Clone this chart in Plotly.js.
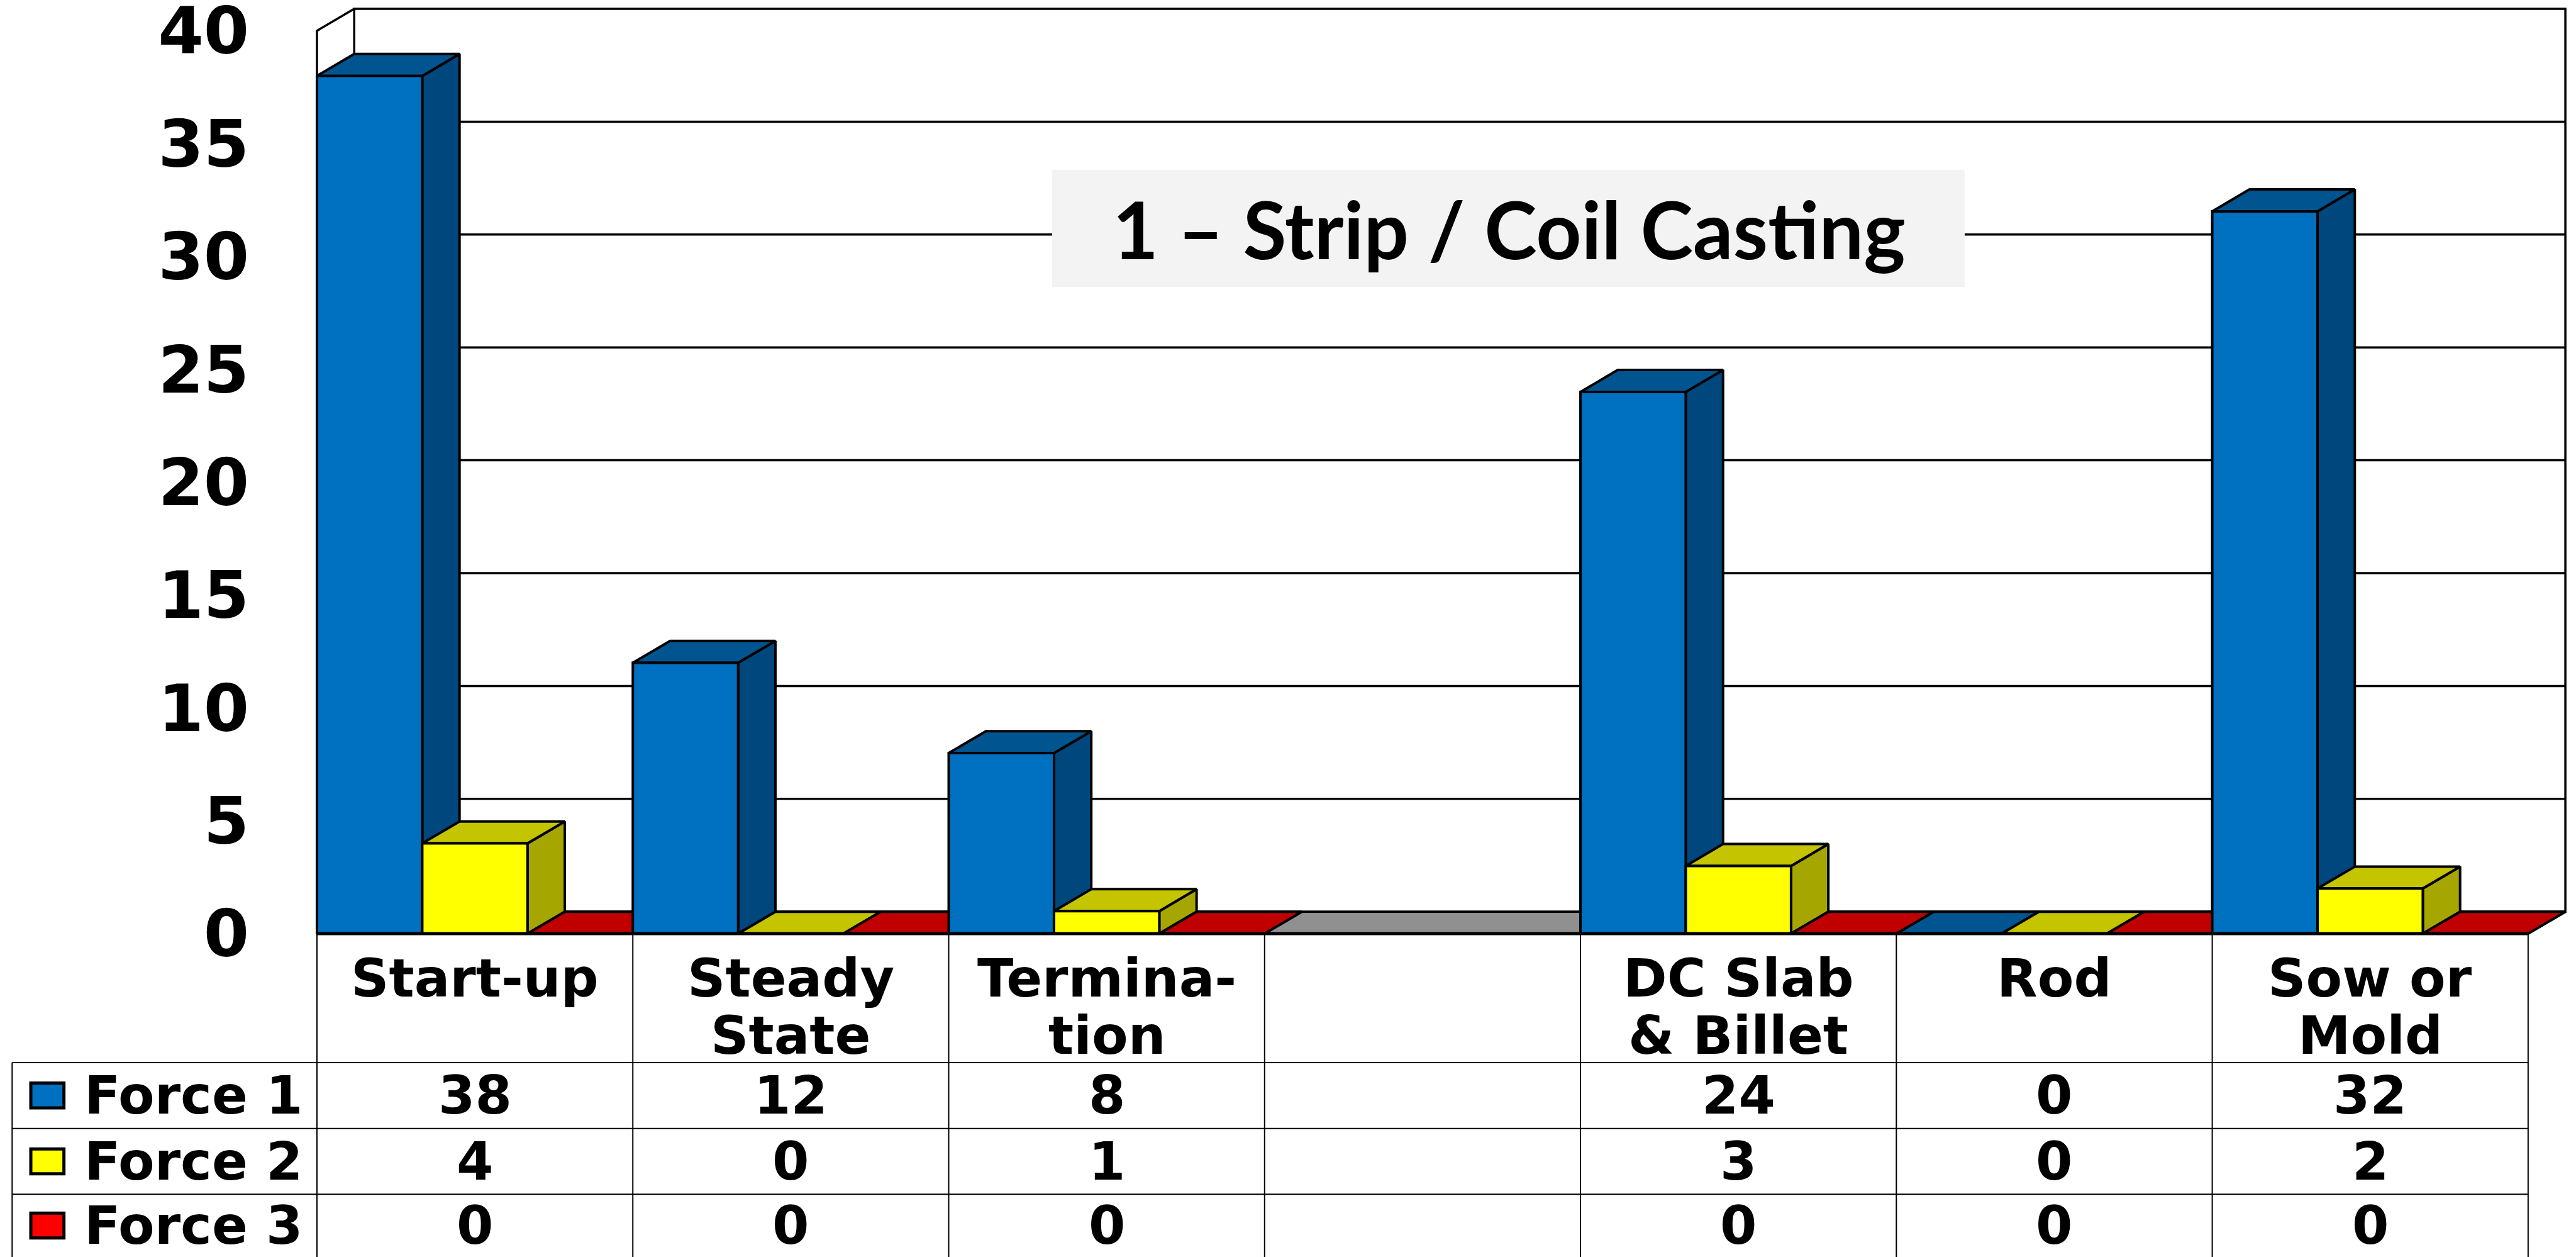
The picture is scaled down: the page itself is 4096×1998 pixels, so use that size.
<!DOCTYPE html>
<html><head><meta charset="utf-8">
<script src="https://cdn.plot.ly/plotly-3.0.1.min.js"></script>
<style>html,body{margin:0;padding:0;background:#fff;overflow:hidden}#chart{width:4096px;height:1998px}</style>
</head><body><div id="chart"></div>
<script>
// ---- data ----
const categories = ['Start-up', 'Steady<br>State', 'Termina-<br>tion', '', 'DC Slab<br>& Billet', 'Rod', 'Sow or<br>Mold'];
const seriesNames = ['Force 1', 'Force 2', 'Force 3'];
const force1 = [38, 12, 8, null, 24, 0, 32];
const force2 = [4, 0, 1, null, 3, 0, 2];
const force3 = [0, 0, 0, null, 0, 0, 0];
const yTickVals = [0, 5, 10, 15, 20, 25, 30, 35, 40];
const yTickText = ['0', '5', '10', '15', '20', '25', '30', '35', '40'];
const chartTitle = '1 – Strip / Coil Casting';

// ---- styling / geometry ----
const series = [force1, force2, force3];
const frontColors = ['#0070C0', '#FFFF00', '#FF0000'];
const topColors = ['#005590', '#C4C400', '#C00000'];
const sideColors = ['#00477E', '#A6A600', '#900000'];
const NCAT = categories.length;
const W = 1 / series.length;   // slot width of one series inside a category
const DX = 0.118;              // depth offset, category units
const DY = 0.972;              // depth offset, value units
const YMAX = yTickVals[yTickVals.length - 1];
const rowLines = [-5.711, -8.627, -11.543];
const rowCenters = [-7.169, -10.085, -12.93];
const headerLineY = [-1.97, -4.52];
const tableLeft = -0.965;
const tableBottom = -14.6;
const FONT = 'DejaVu Sans';

const traces = [];
function polys(list, fill, lw) {
  const xs = [], ys = [];
  list.forEach(p => { p[0].forEach((v, i) => { xs.push(v); ys.push(p[1][i]); }); xs.push(null); ys.push(null); });
  traces.push({type: 'scatter', mode: 'lines', x: xs, y: ys, fill: fill ? 'toself' : 'none', fillcolor: fill || undefined,
    line: {color: '#000', width: lw}, hoverinfo: 'skip', showlegend: false, connectgaps: false});
}

// walls
polys([[[DX, NCAT + DX, NCAT + DX, DX, DX], [DY, DY, YMAX + DY, YMAX + DY, DY]]], '#FFFFFF', 3.5);
polys([[[0, DX, DX, 0, 0], [0, DY, YMAX + DY, YMAX, 0]]], '#FFFFFF', 3.5);
// gridlines on back wall
const gl = yTickVals.filter(t => t > 0 && t < YMAX).map(t => [[DX, NCAT + DX], [t + DY, t + DY]]);
polys(gl, null, 3.5);
// floor
polys([[[0, NCAT, NCAT + DX, DX, 0], [0, 0, DY, DY, 0]]], '#909090', 3.5);

// bars: sides, then tops, then fronts
const sides = series.map(() => []), tops = series.map(() => []), fronts = series.map(() => []);
series.forEach((vals, s) => {
  vals.forEach((v, c) => {
    if (v === null) return;
    const x0 = c + s * W, x1 = x0 + W;
    tops[s].push([[x0, x1, x1 + DX, x0 + DX, x0], [v, v, v + DY, v + DY, v]]);
    if (v > 0) {
      sides[s].push([[x1, x1 + DX, x1 + DX, x1, x1], [0, DY, v + DY, v, 0]]);
      fronts[s].push([[x0, x1, x1, x0, x0], [0, 0, v, v, 0]]);
    }
  });
});
series.forEach((_, s) => { if (sides[s].length) polys(sides[s], sideColors[s], 4); });
series.forEach((_, s) => { if (tops[s].length) polys(tops[s], topColors[s], 4); });
series.forEach((_, s) => { if (fronts[s].length) polys(fronts[s], frontColors[s], 4); });
// strong front floor edge
polys([[[0, NCAT], [0, 0]]], null, 5);

// data table grid
const tl = [];
for (let c = 0; c <= NCAT; c++) tl.push([[c, c], [0, tableBottom]]);
tl.push([[tableLeft, tableLeft], [rowLines[0], tableBottom]]);
rowLines.forEach(y => tl.push([[tableLeft, NCAT], [y, y]]));
polys(tl, null, 2);

// annotations
const annotations = [];
const tf = {family: FONT, size: 84, color: '#000', weight: 'bold'};
categories.forEach((cat, c) => {
  if (!cat) return;
  cat.split('<br>').forEach((ln, i) => annotations.push({x: c + 0.5, y: headerLineY[i], xref: 'x', yref: 'y', text: '<b>' + ln + '</b>',
    showarrow: false, xanchor: 'center', yanchor: 'middle', font: tf, borderpad: 0}));
});
series.forEach((vals, s) => {
  annotations.push({x: -0.7396, y: rowCenters[s], xref: 'x', yref: 'y', text: '<b>' + seriesNames[s] + '</b>', showarrow: false,
    xanchor: 'left', yanchor: 'middle', font: tf, borderpad: 0});
  vals.forEach((v, c) => {
    if (v === null) return;
    annotations.push({x: c + 0.5, y: rowCenters[s], xref: 'x', yref: 'y', text: '<b>' + v + '</b>', showarrow: false,
      xanchor: 'center', yanchor: 'middle', font: tf, borderpad: 0});
  });
});
annotations.push({x: 2399 / 4096, y: 1 - 363 / 1998, xref: 'paper', yref: 'paper', text: '<b>' + chartTitle + '</b>', showarrow: false,
  xanchor: 'center', yanchor: 'middle', font: {family: 'Lato', size: 126, color: '#000', weight: 'bold'}});

const shapes = [{type: 'rect', xref: 'paper', yref: 'paper', x0: 1673 / 4096, x1: 3124 / 4096, y0: 1 - 456 / 1998, y1: 1 - 270 / 1998,
  fillcolor: '#F3F3F3', line: {width: 0}, layer: 'above'}];
series.forEach((_, s) => shapes.push({type: 'rect', xref: 'x', yref: 'y', x0: -0.8534 - 0.0524, x1: -0.8534 + 0.0524,
  y0: rowCenters[s] - 0.55, y1: rowCenters[s] + 0.55, fillcolor: frontColors[s], line: {color: '#000', width: 5}, layer: 'above'}));

const layout = {
  width: 4096, height: 1998, autosize: false,
  margin: {l: 0, r: 0, t: 0, b: 0, pad: 0},
  paper_bgcolor: '#FFFFFF', plot_bgcolor: '#FFFFFF',
  showlegend: false, hovermode: false,
  xaxis: {range: [-1.0034, 7.1516], visible: false, fixedrange: true},
  yaxis: {range: [-14.323, 41.363], anchor: 'free', position: 504 / 4096, tickmode: 'array', tickvals: yTickVals, ticktext: yTickText,
    ticks: 'outside', ticklen: 87, tickcolor: 'rgba(0,0,0,0)', showgrid: false, zeroline: false, showline: false, fixedrange: true,
    ticklabeloverflow: 'allow',
    tickfont: {family: FONT, size: 104, color: '#000', weight: 'bold'}},
  shapes: shapes, annotations: annotations
};
Plotly.newPlot('chart', traces, layout, {staticPlot: true, displayModeBar: false});
</script>
</body></html>
